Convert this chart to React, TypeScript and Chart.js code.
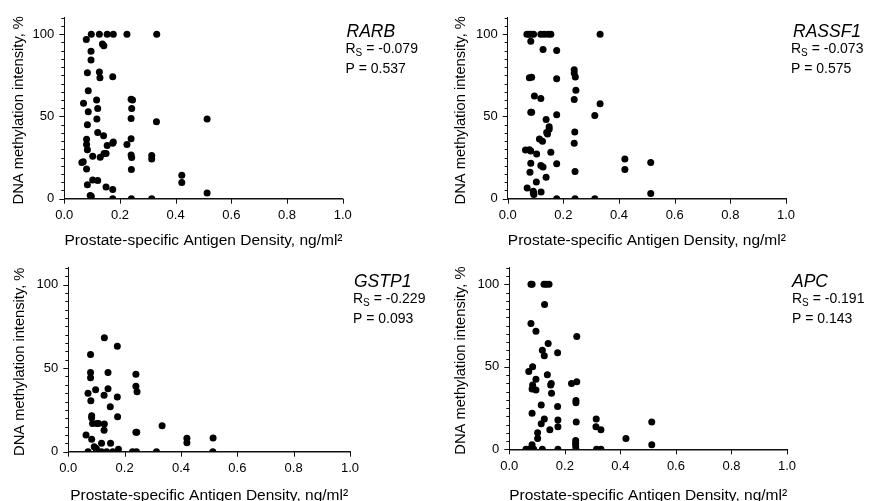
import React, { useEffect, useRef } from 'react';
import { Chart, registerables } from 'chart.js';

Chart.register(...registerables);

const FONT = '"Liberation Sans", Arial, Helvetica, sans-serif';

// ---- data ----
const X_TICKS = [0, 0.2, 0.4, 0.6, 0.8, 1.0];
const Y_MAJOR = [0, 50, 100];
const Y_MINOR_STEP = 5;
const Y_MAX = 110;

const X_TITLE = 'Prostate-specific Antigen Density, ng/ml²';
const Y_TITLE = 'DNA methylation intensity, %';

const GENES = ['RARB', 'RASSF1', 'GSTP1', 'APC'];
const RS = ['-0.079', '-0.073', '-0.229', '-0.191'];
const PV = ['0.537', '0.575', '0.093', '0.143'];

const RARB_X = [0.097, 0.126, 0.154, 0.176, 0.225, 0.332, 0.079, 0.137, 0.142, 0.096, 0.096, 0.083, 0.126, 0.128, 0.174, 0.086, 0.116, 0.240, 0.245, 0.069, 0.242, 0.120, 0.086, 0.117, 0.240, 0.513, 0.331, 0.083, 0.120, 0.141, 0.240, 0.080, 0.174, 0.176, 0.080, 0.225, 0.154, 0.083, 0.143, 0.150, 0.102, 0.129, 0.240, 0.242, 0.314, 0.314, 0.063, 0.068, 0.080, 0.241, 0.422, 0.422, 0.102, 0.120, 0.083, 0.150, 0.174, 0.513, 0.093, 0.097, 0.174, 0.241, 0.314];
const RARB_Y = [100, 100, 100, 100, 100, 100, 96.8, 94, 93, 89.7, 84.3, 76.6, 77, 73.6, 74.2, 65.7, 60, 60.5, 60, 58, 54.8, 54.8, 52.8, 48.4, 48.8, 48.4, 46.8, 45, 40.3, 38.3, 36.5, 36.1, 33.7, 34.5, 33, 33, 32.3, 29.8, 27.5, 27.5, 25.8, 25.2, 26.5, 25, 26.2, 24.2, 22, 22.5, 18.1, 17.7, 14.3, 9.9, 11.3, 11, 8.5, 7.1, 5.6, 3.4, 2, 1.5, 0, 0, 0];

const RASSF1_X = [0.069, 0.076, 0.083, 0.093, 0.119, 0.131, 0.145, 0.155, 0.332, 0.083, 0.127, 0.176, 0.239, 0.239, 0.243, 0.078, 0.086, 0.176, 0.245, 0.096, 0.119, 0.239, 0.332, 0.083, 0.086, 0.176, 0.313, 0.138, 0.149, 0.149, 0.140, 0.143, 0.241, 0.114, 0.125, 0.239, 0.064, 0.078, 0.083, 0.155, 0.104, 0.421, 0.514, 0.083, 0.176, 0.119, 0.127, 0.421, 0.242, 0.080, 0.138, 0.103, 0.070, 0.092, 0.120, 0.092, 0.094, 0.514, 0.176, 0.242, 0.313];
const RASSF1_Y = [100, 100, 100, 100, 100, 100, 100, 100, 100, 95.8, 90.7, 90.1, 78.4, 76.5, 74, 73.6, 73.8, 73, 66, 62.5, 61, 60.3, 57.7, 52.6, 52.6, 51, 50.6, 48.2, 43.8, 42.3, 40.3, 39.3, 40.5, 36.3, 34.9, 33.7, 29.6, 29.8, 29, 28.2, 27.2, 24.2, 22, 21.6, 21.2, 20.2, 19.2, 17.7, 16.5, 16.1, 13.1, 10.1, 6.5, 4.6, 4, 3.4, 2.6, 3.2, 0, 0, 0];

const GSTP1_X = [0.128, 0.174, 0.079, 0.079, 0.141, 0.240, 0.079, 0.240, 0.141, 0.097, 0.244, 0.070, 0.127, 0.174, 0.080, 0.149, 0.083, 0.175, 0.083, 0.086, 0.101, 0.107, 0.128, 0.333, 0.127, 0.240, 0.243, 0.063, 0.514, 0.421, 0.083, 0.421, 0.150, 0.118, 0.092, 0.098, 0.178, 0.100, 0.070, 0.100, 0.118, 0.136, 0.158, 0.228, 0.242, 0.313, 0.513];
const GSTP1_Y = [68.1, 63.1, 58.2, 47.4, 47.4, 46.4, 44.2, 39.2, 37.6, 37, 35.9, 34.9, 33.7, 32.7, 30.5, 26.9, 21.5, 20.9, 20.3, 16.9, 16.9, 16.9, 16.5, 15.5, 12.9, 11.6, 11.6, 10, 8.2, 8, 7.4, 5.4, 5, 5, 3, 2, 1.4, 1.5, 0, 0, 0, 0, 0, 0, 0, 0, 0];

const APC_X = [0.078, 0.082, 0.125, 0.133, 0.143, 0.127, 0.078, 0.096, 0.243, 0.140, 0.119, 0.174, 0.126, 0.084, 0.070, 0.137, 0.096, 0.243, 0.224, 0.151, 0.149, 0.084, 0.082, 0.096, 0.152, 0.240, 0.240, 0.115, 0.174, 0.082, 0.126, 0.313, 0.175, 0.241, 0.513, 0.115, 0.175, 0.312, 0.146, 0.330, 0.102, 0.102, 0.420, 0.239, 0.239, 0.082, 0.513, 0.239, 0.060, 0.071, 0.088, 0.119, 0.175, 0.240, 0.314, 0.330];
const APC_Y = [100, 100, 100, 100, 100, 87.7, 76.2, 71.6, 68.3, 64.1, 60.1, 58.5, 56.7, 50, 47.2, 45.2, 42.5, 40.9, 39.9, 39.9, 38.9, 38.9, 36.5, 35.9, 33.9, 29.6, 28.2, 26.8, 26, 21.8, 18.3, 18.3, 17.7, 16.5, 16.5, 15.5, 13.7, 13.7, 11.9, 11.9, 10.1, 6.5, 6.5, 5.4, 3.6, 2.8, 2.8, 2, 0, 0, 0, 0, 0, 0, 0, 0];

const SERIES_X = [RARB_X, RASSF1_X, GSTP1_X, APC_X];
const SERIES_Y = [RARB_Y, RASSF1_Y, GSTP1_Y, APC_Y];

// ---- layout (canvas-local pixel boxes) ----
type Box = {
  cx: number; cy: number; w: number; h: number;
  left: number; right: number; top: number; bottom: number;
  yTitleX: number; xTitleY: number; geneX: number; statX: number;
};
const BOXES: Box[] = [
  { cx: 0, cy: 0, w: 437, h: 250, left: 64.3, right: 342.7, top: 15.7, bottom: 198.7, yTitleX: 23, xTitleY: 245, geneX: 346.5, statX: 345.5 },
  { cx: 437, cy: 0, w: 437, h: 250, left: 70.7, right: 349, top: 15.7, bottom: 198.7, yTitleX: 28, xTitleY: 245, geneX: 356, statX: 354 },
  { cx: 0, cy: 250, w: 437, h: 251, left: 68.3, right: 350, top: 16.7, bottom: 201.7, yTitleX: 24, xTitleY: 249.5, geneX: 354, statX: 353 },
  { cx: 437, cy: 250, w: 437, h: 251, left: 72.3, right: 350, top: 16.7, bottom: 199.3, yTitleX: 28.3, xTitleY: 249.5, geneX: 355, statX: 355 },
];

function makeDecor(i: number, b: Box) {
  return {
    id: 'decor' + i,
    afterDraw(chart: any) {
      const ctx: CanvasRenderingContext2D = chart.ctx;
      const xs = chart.scales.x;
      const ys = chart.scales.y;
      const a = chart.chartArea;
      ctx.save();
      ctx.strokeStyle = '#111';
      ctx.lineWidth = 1;
      for (let v = 0; v <= Y_MAX + 0.001; v += Y_MINOR_STEP) {
        const py = Math.round(ys.getPixelForValue(v)) + 0.5;
        const len = Y_MAJOR.includes(v) ? 5 : 3;
        ctx.beginPath();
        ctx.moveTo(a.left - len, py);
        ctx.lineTo(a.left, py);
        ctx.stroke();
      }
      for (const v of X_TICKS) {
        const px = Math.round(xs.getPixelForValue(v)) + 0.5;
        ctx.beginPath();
        ctx.moveTo(px, a.bottom);
        ctx.lineTo(px, a.bottom + 5);
        ctx.stroke();
      }
      ctx.fillStyle = '#000';
      // x title
      ctx.font = `15.5px ${FONT}`;
      ctx.textAlign = 'center';
      ctx.textBaseline = 'alphabetic';
      ctx.fillText(X_TITLE, (a.left + a.right) / 2, b.xTitleY);
      // y title
      ctx.save();
      ctx.translate(b.yTitleX, (a.top + a.bottom) / 2 + 2);
      ctx.rotate(-Math.PI / 2);
      ctx.font = `14.7px ${FONT}`;
      ctx.fillText(Y_TITLE, 0, 0);
      ctx.restore();
      // annotations
      ctx.textAlign = 'left';
      ctx.font = `italic 17.5px ${FONT}`;
      ctx.fillText(GENES[i], b.geneX, a.top + 19.5);
      const y2 = a.top + 35.5;
      ctx.font = `14px ${FONT}`;
      ctx.fillText('R', b.statX, y2);
      let x = b.statX + ctx.measureText('R').width;
      ctx.font = `10px ${FONT}`;
      ctx.fillText('S', x, y2 + 3);
      x += ctx.measureText('S').width;
      ctx.font = `14px ${FONT}`;
      ctx.fillText(' = ' + RS[i], x, y2);
      ctx.fillText('P = ' + PV[i], b.statX, a.top + 55);
      ctx.restore();
    },
  };
}

function Panel({ i }: { i: number }) {
  const ref = useRef<HTMLCanvasElement>(null);
  const b = BOXES[i];
  useEffect(() => {
    if (!ref.current) return;
    const xsArr = SERIES_X[i];
    const ysArr = SERIES_Y[i];
    const chart = new Chart(ref.current, {
      type: 'scatter',
      data: {
        datasets: [
          {
            data: xsArr.map((x, k) => ({ x, y: ysArr[k] })),
            backgroundColor: '#000',
            borderColor: '#000',
            borderWidth: 0,
            pointRadius: 3.5,
            pointHoverRadius: 3.5,
            clip: 0,
          } as any,
        ],
      },
      options: {
        animation: false,
        responsive: false,
        maintainAspectRatio: false,
        devicePixelRatio: 1,
        events: [],
        layout: { padding: { top: b.top, right: b.w - b.right, left: 0, bottom: 0 } },
        plugins: { legend: { display: false }, tooltip: { enabled: false }, title: { display: false } },
        scales: {
          x: {
            type: 'linear',
            min: 0,
            max: 1,
            afterFit: (s: any) => { s.height = b.h - b.bottom; },
            grid: { display: false, drawTicks: false },
            border: { display: true, color: '#111', width: 1.5 },
            ticks: {
              stepSize: 0.2,
              autoSkip: false,
              maxRotation: 0,
              padding: 9,
              color: '#000',
              font: { family: FONT, size: 13 },
              callback: (v: any) => Number(v).toFixed(1),
            },
          },
          y: {
            type: 'linear',
            min: 0,
            max: Y_MAX,
            afterFit: (s: any) => { s.width = b.left; },
            grid: { display: false, drawTicks: false },
            border: { display: true, color: '#111', width: 1 },
            ticks: {
              stepSize: 50,
              autoSkip: false,
              padding: 10,
              color: '#000',
              font: { family: FONT, size: 13 },
              callback: (v: any) => (Y_MAJOR.includes(Number(v)) ? String(v) : ''),
            },
          },
        },
      } as any,
      plugins: [makeDecor(i, b)],
    });
    return () => chart.destroy();
  }, [i]);
  return (
    <canvas
      ref={ref}
      width={b.w}
      height={b.h}
      style={{ position: 'absolute', left: b.cx, top: b.cy, width: b.w, height: b.h }}
    />
  );
}

export default function App() {
  return (
    <div style={{ position: 'absolute', left: 0, top: 0, width: 874, height: 501, background: '#fff', overflow: 'hidden' }}>
      {GENES.map((g, i) => (
        <Panel key={g} i={i} />
      ))}
    </div>
  );
}
